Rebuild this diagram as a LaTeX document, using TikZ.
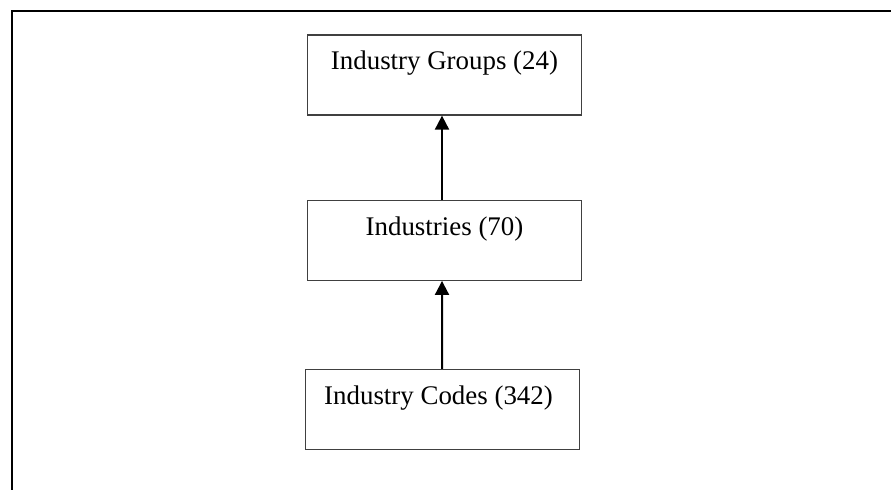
\documentclass[tikz,border=0pt]{standalone}
\usepackage{fontspec}
\setmainfont{Liberation Serif}
\usetikzlibrary{arrows.meta,positioning}

\begin{document}
\begin{tikzpicture}[x=1bp,y=1bp,
  level box/.style={rectangle,draw=black!75,line width=1.3bp,
  minimum width=274bp,inner xsep=0pt,inner ysep=0pt,
  text height=35bp,text depth=45bp,
  font=\fontsize{27}{32}\selectfont},
  up arrow/.style={-{Triangle[width=14bp,length=14bp]},line width=2bp}]

  \useasboundingbox (0,0) rectangle (891,490);
  \draw[line width=2bp] (891,479) -- (12,479) -- (12,0);

  \node[level box] (grp) at (444.5,415) {Industry Groups (24)};
  \node[level box] (ind) [below=84bp of grp] {Industries (70)};
  \node[level box] (codes) [below=88bp of ind, xshift=-2bp] {Industry Codes (342)\hspace*{8bp}};

  \path[up arrow]
    ([xshift=-2.5bp]ind.north) edge ([xshift=-2.5bp]grp.south)
    ([xshift=-0.5bp]codes.north) edge ([xshift=-2.5bp]ind.south);
\end{tikzpicture}
\end{document}
